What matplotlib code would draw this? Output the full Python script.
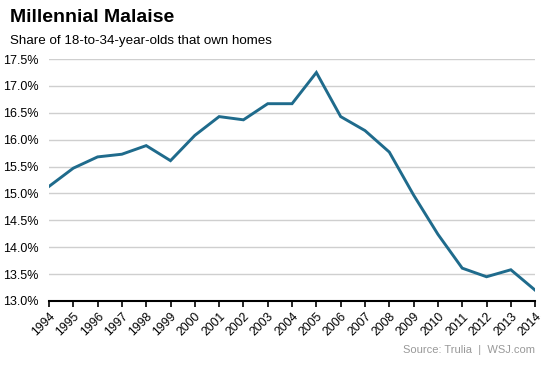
import matplotlib
matplotlib.use("Agg")
import matplotlib.pyplot as plt
from matplotlib.ticker import FuncFormatter

years = list(range(1994, 2015))
share = [15.13, 15.47, 15.68, 15.73, 15.89, 15.61, 16.08, 16.43, 16.37, 16.67, 16.67,
         17.25, 16.43, 16.17, 15.77, 14.97, 14.24, 13.61, 13.45, 13.58, 13.20]
yticks = [13.0, 13.5, 14.0, 14.5, 15.0, 15.5, 16.0, 16.5, 17.0, 17.5]

plt.rcParams['font.family'] = ['Liberation Sans', 'DejaVu Sans']

fig = plt.figure(figsize=(5.5, 3.67), dpi=100)
ax = fig.add_axes([0.089, 0.180, 0.884, 0.659])

ax.plot(years, share, color='#1f6b8c', linewidth=2.1, solid_joinstyle='miter', zorder=3)

ax.set_xlim(1994, 2014)
ax.set_ylim(13.0, 17.5)
ax.set_yticks(yticks)
ax.yaxis.set_major_formatter(FuncFormatter(lambda v, p: f"{v:.1f}%"))
ax.set_xticks(years)
ax.set_xticklabels([str(y) for y in years], rotation=45, ha='right', rotation_mode='anchor')

ax.grid(axis='y', color='#cfcfcf', linewidth=1.0, zorder=0)
ax.set_axisbelow(True)
for s in ['top', 'right', 'left']:
    ax.spines[s].set_visible(False)
ax.spines['bottom'].set_linewidth(1.5)
ax.spines['bottom'].set_color('black')

ax.tick_params(axis='y', length=0, pad=7.5, labelsize=9, colors='black')
ax.tick_params(axis='x', length=4, width=1.2, pad=3, labelsize=8.7, colors='black')

fig.text(0.018, 0.975, "Millennial Malaise", fontsize=14, fontweight='bold', va='top', ha='left')
fig.text(0.018, 0.905, "Share of 18-to-34-year-olds that own homes", fontsize=9.6, va='top', ha='left')
fig.text(0.973, 0.045, "Source: Trulia  |  WSJ.com", fontsize=8, color='#999999', ha='right', va='center')

fig.savefig("out.png", dpi=100)
